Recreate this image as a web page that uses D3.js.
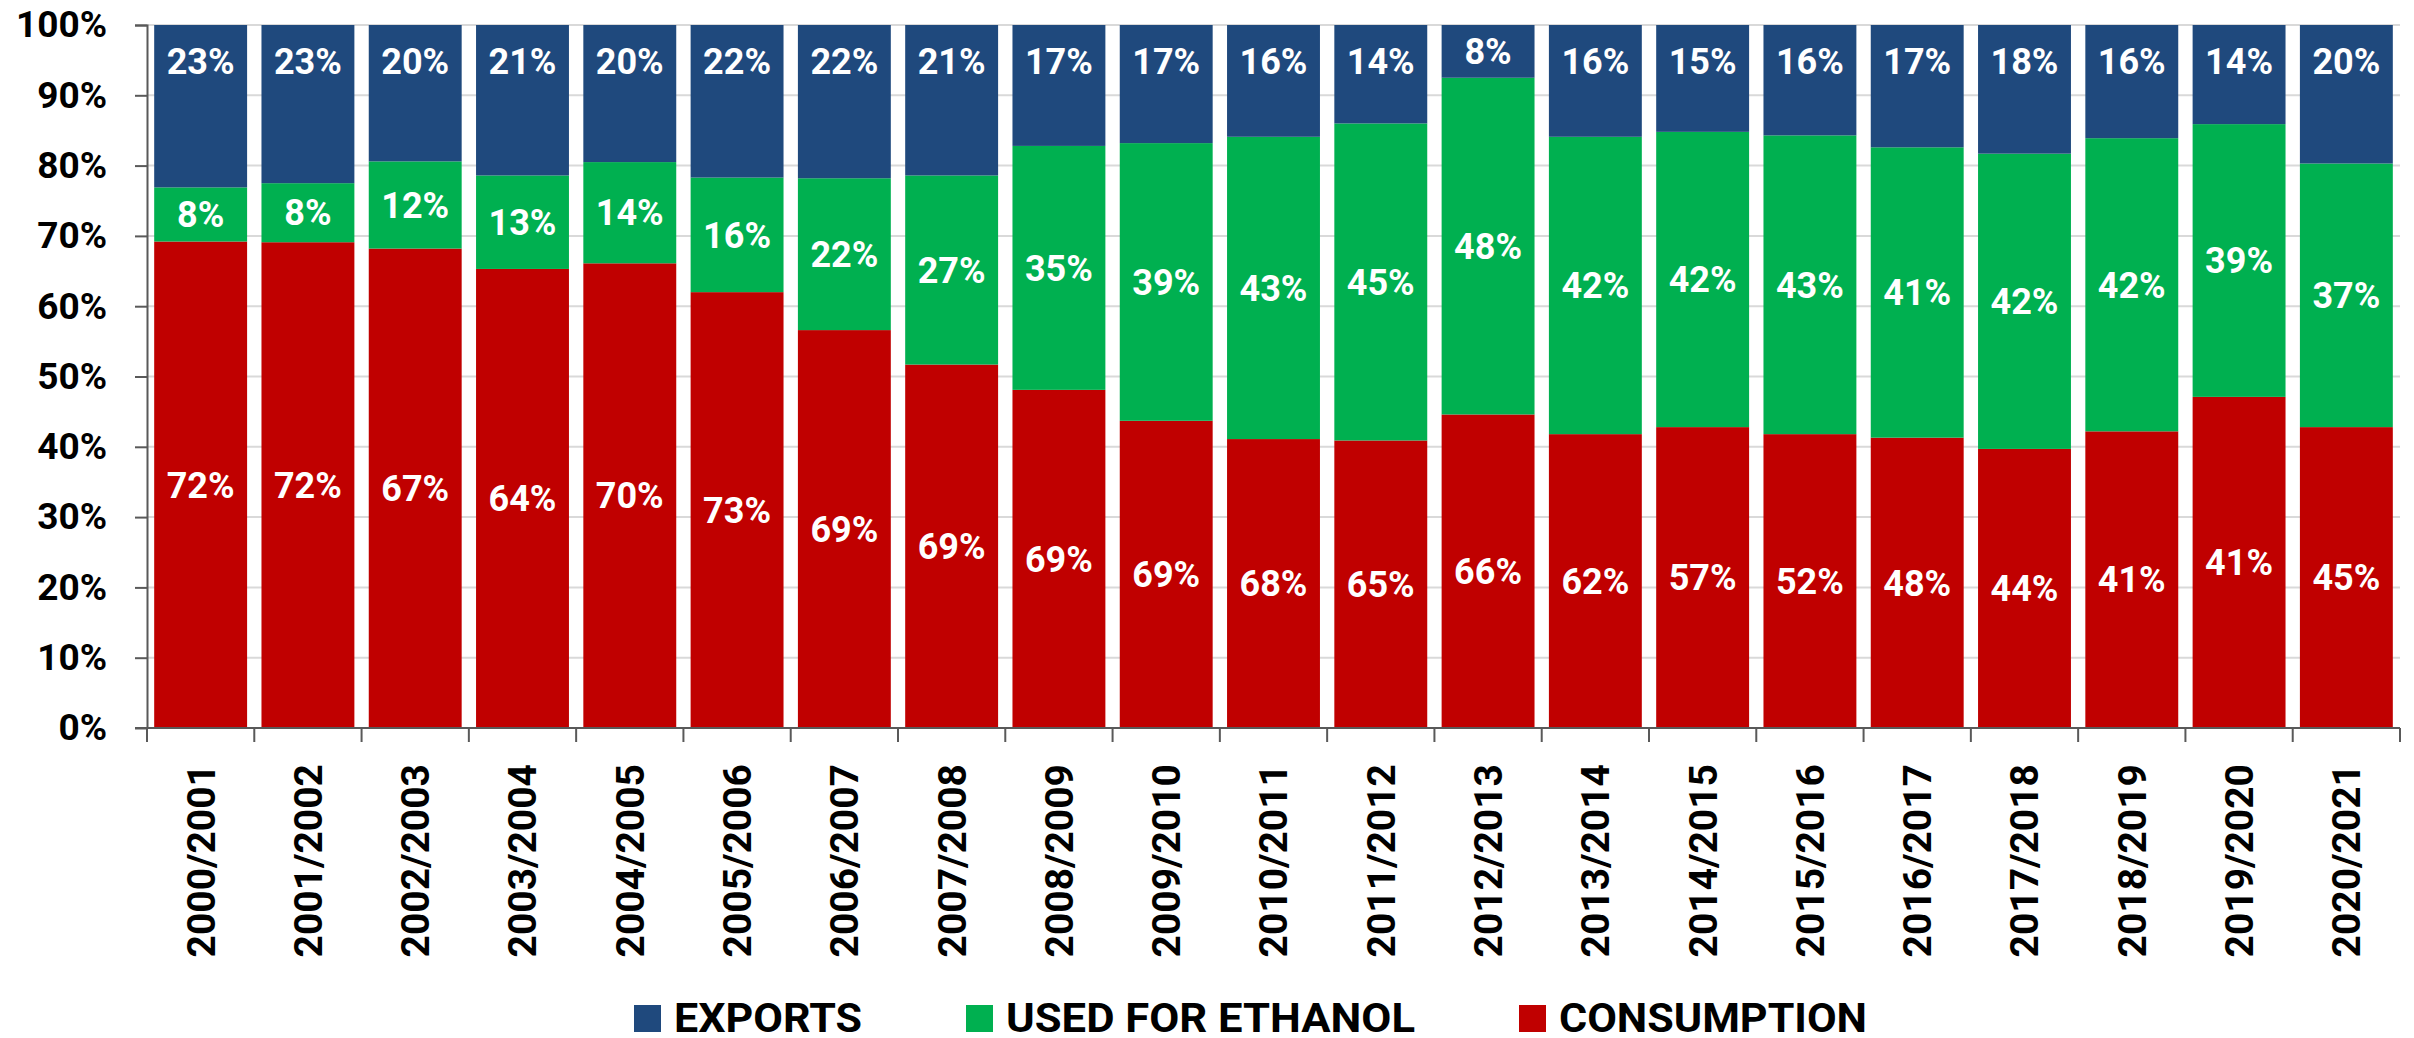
<!DOCTYPE html>
<html>
<head>
<meta charset="utf-8">
<script src="https://cdn.jsdelivr.net/npm/d3@7"></script>
<style>
  html, body { margin: 0; padding: 0; background: #fff; }
  svg { display: block; }
  text { font-family: Roboto, "Noto Sans", Arial, sans-serif; font-weight: 700; }
</style>
</head>
<body>
<svg id="chart" width="2414" height="1038"></svg>
<script>
const categories = ["2000/2001","2001/2002","2002/2003","2003/2004","2004/2005","2005/2006","2006/2007","2007/2008","2008/2009","2009/2010","2010/2011","2011/2012","2012/2013","2013/2014","2014/2015","2015/2016","2016/2017","2017/2018","2018/2019","2019/2020","2020/2021"];

// Segment shares as drawn (bar heights, %)
const consumption = [69.2, 69.1, 68.2, 65.3, 66.1, 62.0, 56.6, 51.7, 48.1, 43.7, 41.1, 40.9, 44.6, 41.8, 42.8, 41.8, 41.3, 39.7, 42.2, 47.1, 42.8];
const ethanol     = [7.7, 8.4, 12.4, 13.3, 14.4, 16.3, 21.6, 26.9, 34.7, 39.5, 43.0, 45.1, 47.9, 42.3, 42.0, 42.5, 41.3, 42.0, 41.7, 38.8, 37.5];
const exportsShare = [23.1, 22.5, 19.4, 21.4, 19.5, 21.7, 21.8, 21.4, 17.2, 16.8, 15.9, 14.0, 7.5, 15.9, 15.2, 15.7, 17.4, 18.3, 16.1, 14.1, 19.7];

// Data labels as printed on the chart
const consumptionLabels = [72, 72, 67, 64, 70, 73, 69, 69, 69, 69, 68, 65, 66, 62, 57, 52, 48, 44, 41, 41, 45];
const ethanolLabels     = [8, 8, 12, 13, 14, 16, 22, 27, 35, 39, 43, 45, 48, 42, 42, 43, 41, 42, 42, 39, 37];
const exportsLabels     = [23, 23, 20, 21, 20, 22, 22, 21, 17, 17, 16, 14, 8, 16, 15, 16, 17, 18, 16, 14, 20];

const yTicks = [0, 0.1, 0.2, 0.3, 0.4, 0.5, 0.6, 0.7, 0.8, 0.9, 1.0];

const seriesNames = ["CONSUMPTION", "USED FOR ETHANOL", "EXPORTS"];
const colors = { "CONSUMPTION": "#C00000", "USED FOR ETHANOL": "#00B050", "EXPORTS": "#1F497D" };
const legendOrder = ["EXPORTS", "USED FOR ETHANOL", "CONSUMPTION"];
const legendTextWidths = { "EXPORTS": 188, "USED FOR ETHANOL": 409, "CONSUMPTION": 308 };

const rows = categories.map((c, i) => ({
  cat: c,
  "CONSUMPTION": consumption[i],
  "USED FOR ETHANOL": ethanol[i],
  "EXPORTS": exportsShare[i]
}));
const labelsBySeries = {
  "CONSUMPTION": consumptionLabels,
  "USED FOR ETHANOL": ethanolLabels,
  "EXPORTS": exportsLabels
};

const margin = { left: 147, right: 14, top: 25, bottom: 310 };
const W = 2414, H = 1038;
const innerW = W - margin.left - margin.right;
const innerH = H - margin.top - margin.bottom;

const svg = d3.select("#chart");
const g = svg.append("g").attr("transform", `translate(${margin.left},${margin.top})`);

const x = d3.scaleBand().domain(categories).range([0, innerW]).paddingInner(0.134).paddingOuter(0.067);
const y = d3.scaleLinear().domain([0, 1]).range([innerH, 0]);

const stacked = d3.stack().keys(seriesNames).offset(d3.stackOffsetExpand)(rows);

// gridlines
g.append("g").selectAll("line").data(yTicks).join("line")
  .attr("x1", 0).attr("x2", innerW)
  .attr("y1", d => y(d)).attr("y2", d => y(d))
  .attr("stroke", "#D9D9D9").attr("stroke-width", 2);

// bars
const layers = g.append("g").selectAll("g").data(stacked).join("g")
  .attr("fill", d => colors[d.key]);
layers.selectAll("rect").data(d => d).join("rect")
  .attr("x", d => x(d.data.cat))
  .attr("width", x.bandwidth())
  .attr("y", d => y(d[1]))
  .attr("height", d => y(d[0]) - y(d[1]));

// labels
const labelG = g.append("g");
stacked.forEach(layer => {
  layer.forEach((d, i) => {
    const top = y(d[1]), bot = y(d[0]);
    let cy = (top + bot) / 2;
    if (layer.key === "EXPORTS") cy = Math.min(cy, top + 36);
    labelG.append("text")
      .attr("x", x(d.data.cat) + x.bandwidth() / 2)
      .attr("y", cy)
      .attr("dy", "0.355em")
      .attr("text-anchor", "middle")
      .attr("fill", "#fff")
      .attr("font-size", 36)
      .text(labelsBySeries[layer.key][i] + "%");
  });
});

// y axis
const yAxis = d3.axisLeft(y).tickValues(yTicks).tickFormat(d3.format(".0%")).tickSize(12).tickPadding(28);
const yg = g.append("g").call(yAxis);
yg.select(".domain").attr("stroke", "#595959").attr("stroke-width", 2).attr("d", `M-12,0.5H0.5V${innerH}H-12`);
yg.selectAll(".tick line").attr("stroke", "#595959").attr("stroke-width", 2);
yg.selectAll(".tick text").attr("font-size", 37).attr("fill", "#000")
  .attr("font-family", "Roboto, sans-serif").attr("font-weight", 700);

// x axis line
g.append("line").attr("x1", 0).attr("x2", innerW).attr("y1", innerH).attr("y2", innerH)
  .attr("stroke", "#595959").attr("stroke-width", 2);
// x ticks at band boundaries
const step = x.step();
const boundaries = categories.map(c => x(c) - (step - x.bandwidth()) / 2).concat([innerW]);
g.append("g").selectAll("line").data(boundaries).join("line")
  .attr("x1", d => d).attr("x2", d => d)
  .attr("y1", innerH).attr("y2", innerH + 14)
  .attr("stroke", "#595959").attr("stroke-width", 2);

// x labels rotated
g.append("g").selectAll("text").data(categories).join("text")
  .attr("transform", d => `translate(${x(d) + x.bandwidth() / 2},${innerH + 36}) rotate(-90)`)
  .attr("text-anchor", "end")
  .attr("dy", "0.355em")
  .attr("font-size", 39)
  .attr("fill", "#000")
  .text(d => d);

// legend
const legend = svg.append("g").attr("transform", "translate(634,1005)");
let lx = 0;
legendOrder.forEach(name => {
  const item = legend.append("g").attr("transform", `translate(${lx},0)`);
  item.append("rect").attr("width", 27).attr("height", 27).attr("fill", colors[name]);
  item.append("text").attr("x", 40).attr("y", 27)
    .attr("font-size", 41).attr("fill", "#000")
    .attr("textLength", legendTextWidths[name]).attr("lengthAdjust", "spacingAndGlyphs")
    .text(name);
  lx += 40 + legendTextWidths[name] + 104;
});
</script>
</body>
</html>
